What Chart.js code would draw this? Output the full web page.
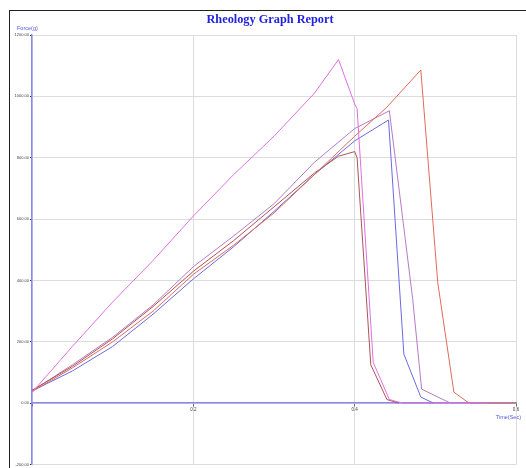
<!DOCTYPE html>
<html>
<head>
<meta charset="utf-8">
<script src="https://cdn.jsdelivr.net/npm/chart.js@4/dist/chart.umd.min.js"></script>
<style>
  html, body { margin: 0; padding: 0; background: #fff; }
  #wrap { position: relative; width: 526px; height: 468px; }
  #frame { position: absolute; left: 9px; top: 10px; right: 0; bottom: 0;
           border-top: 1.5px solid #222; border-left: 1.5px solid #222; pointer-events: none; }
</style>
</head>
<body>
<div id="wrap">
  <canvas id="c" width="526" height="468"></canvas>
  <div id="frame"></div>
</div>
<script>
// ---- data (time in seconds, force in grams) ----
const titleText = "Rheology Graph Report";
const yAxisLabel = "Force(g)";
const xAxisLabel = "Time(Sec)";

const pinkTime   = [0, 0.05, 0.1, 0.15, 0.2, 0.25, 0.3, 0.35, 0.38, 0.4, 0.403, 0.423, 0.443, 0.46, 0.565];
const pinkForce  = [35, 185, 330, 465, 610, 745, 870, 1010, 1120, 975, 960, 133, 12, 0, 0];

const redTime    = [0, 0.05, 0.1, 0.15, 0.2, 0.25, 0.3, 0.35, 0.4, 0.44, 0.482, 0.503, 0.523, 0.542, 0.6];
const redForce   = [38, 115, 200, 300, 420, 515, 620, 745, 870, 965, 1086, 393, 36, 0, 0];

const blueTime   = [0, 0.05, 0.1, 0.15, 0.2, 0.25, 0.3, 0.35, 0.4, 0.442, 0.461, 0.482, 0.498];
const blueForce  = [40, 105, 185, 290, 405, 510, 625, 745, 855, 923, 160, 20, 0];

const purpleTime = [0, 0.05, 0.1, 0.15, 0.2, 0.25, 0.3, 0.35, 0.4, 0.443, 0.472, 0.483, 0.519];
const purpleForce= [40, 125, 215, 320, 445, 545, 650, 785, 895, 953, 338, 46, 0];

const brownTime  = [0, 0.05, 0.1, 0.15, 0.2, 0.25, 0.3, 0.35, 0.38, 0.4, 0.403, 0.42, 0.44, 0.455];
const brownForce = [42, 120, 210, 315, 430, 530, 640, 750, 805, 820, 800, 125, 12, 0];

const xTicks = [0, 0.2, 0.4, 0.6];
const yTicks = [-200, 0, 200, 400, 600, 800, 1000, 1200];

function pts(t, f) { return t.map((v, i) => ({ x: v, y: f[i] })); }

function ds(t, f, color) {
  return { data: pts(t, f), borderColor: color, borderWidth: 1, pointRadius: 0, tension: 0, fill: false };
}

const textPlugin = {
  id: 'texts',
  afterDraw(chart) {
    const ctx = chart.ctx;
    ctx.save();
    ctx.fillStyle = '#2222dd';
    ctx.font = 'bold 12.3px "Liberation Serif"';
    ctx.textAlign = 'center';
    ctx.textBaseline = 'middle';
    ctx.fillText(titleText, 270, 20);
    ctx.fillStyle = '#5555dd';
    ctx.font = '5.5px "Liberation Sans"';
    ctx.textAlign = 'left';
    ctx.fillText(yAxisLabel, 17, 28);
    ctx.textAlign = 'right';
    ctx.fillText(xAxisLabel, 521, 417);
    ctx.restore();
  }
};

new Chart(document.getElementById('c'), {
  type: 'line',
  data: {
    datasets: [
      ds(pinkTime, pinkForce, '#e070e0'),
      ds(redTime, redForce, '#e06a5c'),
      ds(brownTime, brownForce, '#a85656'),
      ds(purpleTime, purpleForce, '#b67ac8'),
      ds(blueTime, blueForce, '#6a6ae2')
    ]
  },
  options: {
    responsive: false,
    animation: false,
    devicePixelRatio: 1,
    layout: { padding: { top: 35, left: 10, right: 10, bottom: 3 } },
    plugins: { legend: { display: false }, title: { display: false }, tooltip: { enabled: false } },
    scales: {
      x: {
        type: 'linear',
        position: { y: 0 },
        min: 0, max: 0.6,
        afterBuildTicks(s) { s.ticks = xTicks.map(v => ({ value: v })); },
        ticks: {
          font: { size: 4.5, family: 'Liberation Sans' }, color: '#444', padding: 1,
          maxRotation: 0, autoSkip: false,
          callback: v => (v === 0 ? '' : v.toFixed(1))
        },
        grid: { color: '#dcdcdc', lineWidth: 1, tickLength: 3, tickColor: '#666' },
        border: { color: '#8a8ae6', width: 1.5 }
      },
      y: {
        type: 'linear',
        position: 'left',
        min: -200, max: 1200,
        afterBuildTicks(s) { s.ticks = yTicks.map(v => ({ value: v })); },
        afterFit(s) { s.width = 22; },
        ticks: {
          font: { size: 4, family: 'Liberation Sans' }, color: '#444', padding: 1,
          autoSkip: false,
          callback: v => v.toFixed(2)
        },
        grid: { color: '#dcdcdc', lineWidth: 1, tickLength: 2, tickColor: '#222' },
        border: { color: '#8a8ae6', width: 1.5 }
      }
    }
  },
  plugins: [textPlugin]
});
</script>
</body>
</html>
